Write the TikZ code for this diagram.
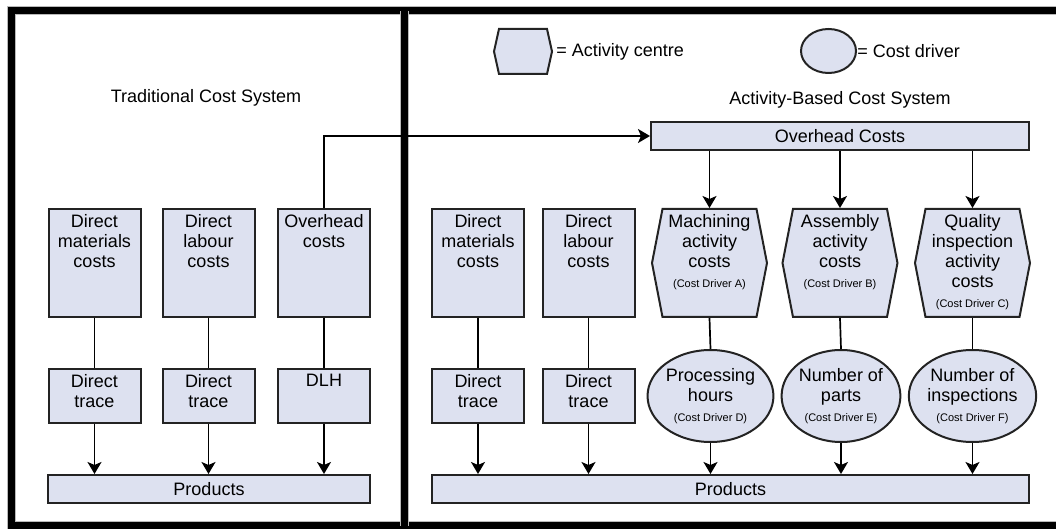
\documentclass[tikz,border=0pt]{standalone}
\usepackage{fontspec}
\setmainfont{Liberation Sans}
\usetikzlibrary{arrows.meta,shapes.geometric,shapes.symbols}
\definecolor{boxfill}{RGB}{221,225,240}
\definecolor{edge}{RGB}{35,35,35}
\newcommand{\cdrv}[1]{\\{\fontsize{5.5}{6}\selectfont(Cost Driver #1)}}

\begin{document}
\begin{tikzpicture}[x=0.5pt,y=-0.5pt,
    font=\fontsize{9}{10}\selectfont,
    box/.style={draw=edge,line width=1pt,fill=boxfill,minimum width=46pt,inner sep=0pt},
    hexa/.style={signal,signal to=west and east,signal pointer angle=158,draw=edge,line width=1pt,
      fill=boxfill,minimum width=57.5pt,minimum height=54pt,inner sep=0pt},
    drv/.style={ellipse,draw=edge,line width=1pt,fill=boxfill,minimum width=57.5pt,
      minimum height=46pt,inner sep=0pt,align=center},
    intext/.style={anchor=north,align=center,inner sep=3pt},
    link/.style={draw=black,line width=0.85pt},
    arr/.style={link,-{Stealth[length=6pt,width=7pt,inset=1.5pt]}},
    panel/.style={line width=3.5pt,preaction={draw=gray!55,line width=4.5pt}}]
      \useasboundingbox (0,0) rectangle (1056,529);
      \clip (0,0) rectangle (1056,529);
      % frame and divider
      \draw[panel] (1070,11) -- (11.5,11) -- (11.5,525.5) -- (1070,525.5);
      \draw[panel] (404,11) -- (404,525.5);
      % traditional system
      \node (trad) at (206,98) {Traditional Cost System};
      \node[box,minimum height=54pt,label={[intext]north:{Direct\\materials\\costs}}] (dm1) at (94.5,263) {};
      \node[box,minimum height=54pt,label={[intext]north:{Direct\\labour\\costs}}] (dl1) at (208.5,263) {};
      \node[box,minimum height=54pt,label={[intext]north:{Overhead\\costs}}] (oh1) at (324,263) {};
      \node[box,minimum height=27pt,label={[intext]north:{Direct\\trace}}] (dt1) at (94.5,396) {};
      \node[box,minimum height=27pt,label={[intext]north:{Direct\\trace}}] (lt1) at (208.5,396) {};
      \node[box,minimum height=27pt,label={[intext]north:{DLH}}] (dlh) at (324,396) {};
      \node[box,minimum width=161pt,minimum height=14pt] (prod1) at (209,489) {Products};
      % activity-based system
      \node[hexa,minimum width=29pt,minimum height=22.5pt,signal pointer angle=155] (hexkey) at (523,51.5) {};
      \node[anchor=west,inner sep=0pt] (hexkeytxt) at (556,52) {= Activity centre};
      \node[drv,minimum width=27.5pt,minimum height=22pt] (drvkey) at (828.5,51) {};
      \node[anchor=west,inner sep=0pt] (drvkeytxt) at (drvkey.east) {= Cost driver};
      \node (abc) at (840,100) {Activity-Based Cost System};
      \node[box,minimum width=189pt,minimum height=14pt] (ovh2) at (840,136) {Overhead Costs};
      \node[box,minimum height=54pt,label={[intext]north:{Direct\\materials\\costs}}] (dm2) at (478,263) {};
      \node[box,minimum height=54pt,label={[intext]north:{Direct\\labour\\costs}}] (dl2) at (588.5,263) {};
      \node[hexa,label={[intext]north:{Machining\\activity\\costs\cdrv{A}}}] (mach) at (709.5,263) {};
      \node[hexa,label={[intext]north:{Assembly\\activity\\costs\cdrv{B}}}] (asm) at (840,263) {};
      \node[hexa,label={[intext]north:{Quality\\inspection\\activity\\costs\cdrv{C}}}] (qual) at (972.5,263) {};
      \node[box,minimum height=27pt,label={[intext]north:{Direct\\trace}}] (dt2) at (478,396) {};
      \node[box,minimum height=27pt,label={[intext]north:{Direct\\trace}}] (lt2) at (588.5,396) {};
      \node[drv] (hrs) at (710.5,396) {Processing\\hours\cdrv{D}};
      \node[drv] (prt) at (841,396) {Number of\\parts\cdrv{E}};
      \node[drv] (insp) at (972.5,396) {Number of\\inspections\cdrv{F}};
      \node[box,minimum width=298.5pt,minimum height=14pt] (prod2) at (730.5,489) {Products};
      % connectors
      \draw[arr] (oh1.north) |- (ovh2.west);
      \foreach \a/\b in {dm1/dt1,dl1/lt1,oh1/dlh,dm2/dt2,dl2/lt2,mach/hrs,asm/prt,qual/insp}
        \draw[link] (\a.south) -- (\b.north);
      \foreach \a in {dt1,lt1,dlh}
        \draw[arr] (\a.south) -- (\a.south |- prod1.north);
      \foreach \a in {dt2,lt2,hrs,prt,insp}
        \draw[arr] (\a.south) -- (\a.south |- prod2.north);
      \foreach \a in {mach,asm,qual}
        \draw[arr] (ovh2.south -| \a.north) -- (\a.north);
    \end{tikzpicture}
\end{document}
